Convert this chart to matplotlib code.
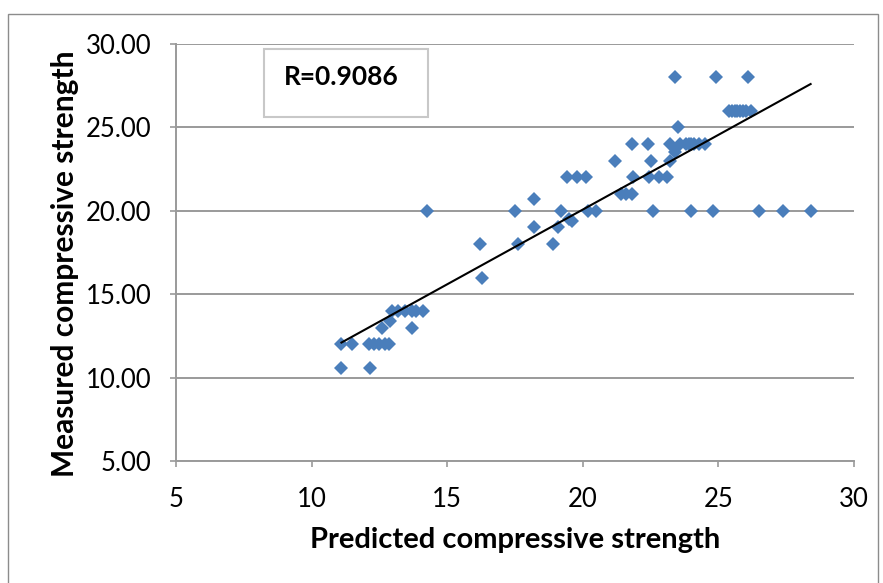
import numpy as np
import matplotlib
matplotlib.use("Agg")
import matplotlib.pyplot as plt
from matplotlib.patches import Rectangle

# === DATA ===
predicted = [
    11.1, 11.5, 11.1, 12.15,
    12.1, 12.3, 12.5, 12.7, 12.85,
    12.6, 12.9,
    12.95, 13.2, 13.45, 13.7, 13.85, 14.1,
    13.7,
    14.25, 16.2, 16.3,
    17.5, 18.2, 19.2, 20.2, 20.5, 22.6, 24.0, 24.8, 26.5, 27.4, 28.4,
    18.2, 19.1, 19.5, 19.6,
    17.6, 18.9,
    19.4, 19.8, 20.1, 21.85, 22.45, 22.8, 23.1,
    21.4, 21.6, 21.8,
    21.2, 22.5, 23.2, 23.4,
    21.8, 22.4, 23.2, 23.6, 23.8, 23.9, 24.0, 24.1, 24.3, 24.5,
    23.5,
    25.4, 25.5, 25.6, 25.7, 25.8, 25.9, 26.0, 26.2,
    23.4, 24.9, 26.1,
]
measured = [
    12.0, 12.0, 10.6, 10.6,
    12.0, 12.0, 12.0, 12.0, 12.0,
    13.0, 13.4,
    14.0, 14.0, 14.0, 14.0, 14.0, 14.0,
    13.0,
    20.0, 18.0, 16.0,
    20.0, 20.7, 20.0, 20.0, 20.0, 20.0, 20.0, 20.0, 20.0, 20.0, 20.0,
    19.0, 19.0, 19.5, 19.4,
    18.0, 18.0,
    22.0, 22.0, 22.0, 22.0, 22.0, 22.0, 22.0,
    21.0, 21.0, 21.0,
    23.0, 23.0, 23.0, 23.5,
    24.0, 24.0, 24.0, 24.0, 24.0, 24.0, 24.0, 24.0, 24.0, 24.0,
    25.0,
    26.0, 26.0, 26.0, 26.0, 26.0, 26.0, 26.0, 26.0,
    28.0, 28.0, 28.0,
]

# linear trendline as drawn in the chart (end points)
trend_x = [11.1, 28.4]
trend_y = [12.1, 27.6]

r_label = "R=0.9086"
x_ticks = [5, 10, 15, 20, 25, 30]
y_ticks = [5, 10, 15, 20, 25, 30]

# === PLOT ===
plt.rcParams['font.family'] = ['Lato', 'DejaVu Sans']

fig = plt.figure(figsize=(8.83, 5.83), dpi=100)
ax = fig.add_axes([176 / 883, 1 - 461 / 583, (854 - 176) / 883, (461 - 44) / 583])

grid_col = "#9a9a9a"
ax.set_xlim(5, 30)
ax.set_ylim(5, 30)
ax.set_yticks(y_ticks)
ax.set_yticklabels([f"{v:.2f}" for v in y_ticks], fontsize=18.5)
ax.set_xticks(x_ticks)
ax.set_xticklabels([str(v) for v in x_ticks], fontsize=18.5)

ax.yaxis.grid(True, color=grid_col, linewidth=1.4)
ax.set_axisbelow(True)
for side in ["top", "right"]:
    ax.spines[side].set_visible(False)
for side in ["left", "bottom"]:
    ax.spines[side].set_color(grid_col)
    ax.spines[side].set_linewidth(1.4)
ax.tick_params(axis="both", direction="out", length=4.5, width=1.2, color=grid_col)
ax.tick_params(axis="y", pad=13)
ax.tick_params(axis="x", pad=14)

ax.plot(predicted, measured, linestyle="none", marker="D", markersize=7.5,
        color="#4a7ebb", markeredgewidth=0, clip_on=False, zorder=3)
ax.plot(trend_x, trend_y, color="black", linewidth=1.5, zorder=4)

ax.set_xlabel("Predicted compressive strength", fontsize=21, fontweight="bold", va="center")
ax.xaxis.set_label_coords(0.5, (461 - 540) / 417)
ax.set_ylabel("Measured compressive strength", fontsize=21.5, fontweight="bold", va="center")
ax.yaxis.set_label_coords((65 - 176) / 678, (461 - 264) / 417)

# R value box
fig.patches.append(Rectangle((264 / 883, 1 - 117 / 583), (428 - 264) / 883, (117 - 49) / 583,
                             transform=fig.transFigure, facecolor="white",
                             edgecolor="#c8c8c8", linewidth=1.5, zorder=5))
fig.text(341 / 883, 1 - 77 / 583, r_label, fontsize=19, fontweight="bold",
         ha="center", va="center", zorder=6)

# outer chart frame
fig.patches.append(Rectangle((8 / 883, -0.05), (878 - 8) / 883, 1.05 - 14 / 583,
                             transform=fig.transFigure, facecolor="none",
                             edgecolor="#8c8c8c", linewidth=1.0))

fig.savefig("out.png", dpi=100)
